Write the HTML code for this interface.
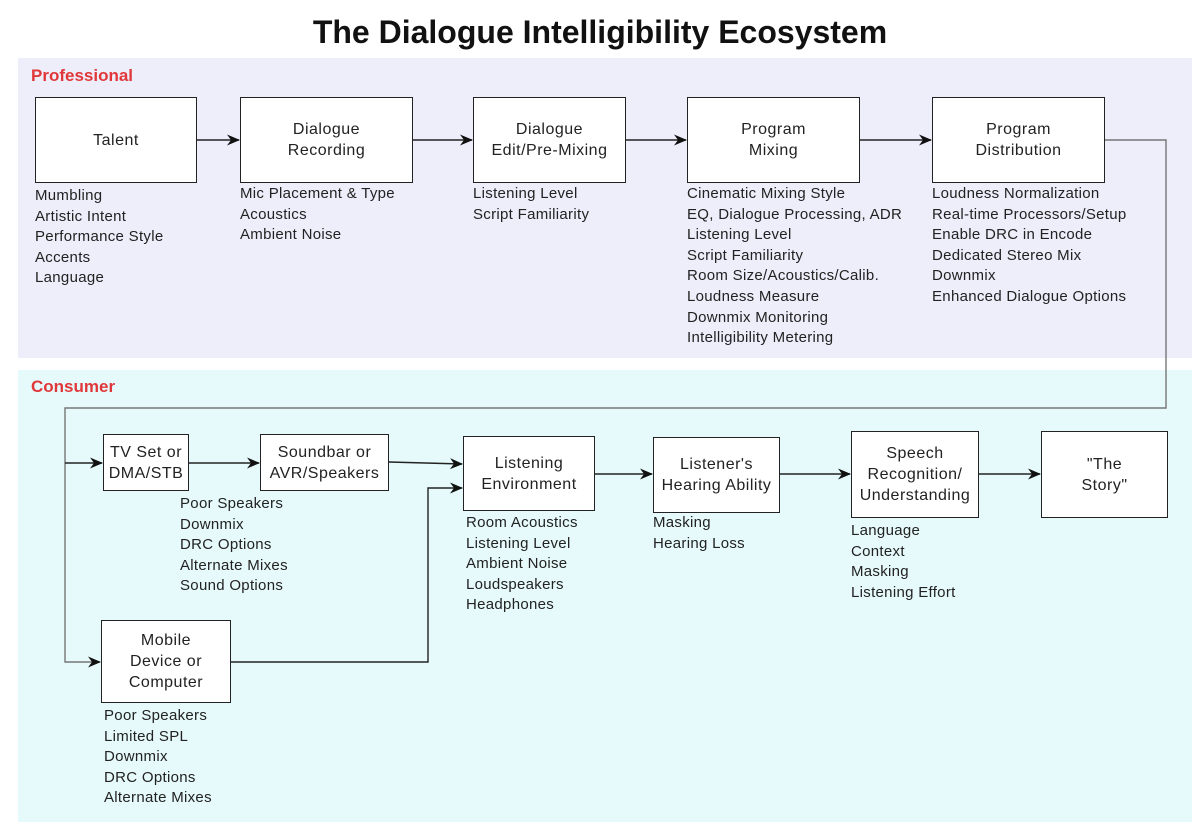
<!DOCTYPE html>
<html><head><style>
body{margin:0;width:1200px;height:827px;background:#fff;position:relative;font-family:"Liberation Sans",sans-serif;overflow:hidden}
.t{position:absolute;left:0;width:1200px;top:14px;text-align:center;font-weight:bold;font-size:32px;color:#111}
.reg{position:absolute}
.lbl{position:absolute;font-weight:bold;font-size:17px;color:#e0383a}
.b{position:absolute;border:1.5px solid #222;background:#fff;box-sizing:border-box;display:flex;align-items:center;justify-content:center;text-align:center;font-size:16px;letter-spacing:0.5px;color:#222;line-height:21px}
.l{position:absolute;font-size:15px;letter-spacing:0.3px;line-height:20.6px;color:#222}
svg{position:absolute;left:0;top:0}
</style></head><body>
<div class="t">The Dialogue Intelligibility Ecosystem</div>
<div class="reg" style="left:18px;top:58px;width:1174px;height:300px;background:#eeedfa"></div>
<div class="reg" style="left:18px;top:370px;width:1174px;height:452px;background:#e6fafb"></div>
<div class="lbl" style="left:31px;top:66px">Professional</div>
<div class="lbl" style="left:31px;top:377px">Consumer</div>
<svg width="1200" height="827">
<defs><marker id="a" markerWidth="13" markerHeight="11" refX="12" refY="5.5" orient="auto" markerUnits="userSpaceOnUse"><path d="M0,0 L13,5.5 L0,11 L4,5.5Z" fill="#111"/></marker></defs>
<g stroke="#222" stroke-width="1.4" fill="none">
<line x1="197" y1="140" x2="239" y2="140" marker-end="url(#a)"/>
<line x1="413" y1="140" x2="472" y2="140" marker-end="url(#a)"/>
<line x1="626" y1="140" x2="686" y2="140" marker-end="url(#a)"/>
<line x1="860" y1="140" x2="931" y2="140" marker-end="url(#a)"/>
<polyline stroke="#777" points="1105,140 1166,140 1166,408 65,408 65,662 100,662" marker-end="url(#a)"/>
<line x1="65" y1="463" x2="102" y2="463" marker-end="url(#a)"/>
<line x1="189" y1="463" x2="259" y2="463" marker-end="url(#a)"/>
<line x1="389" y1="462" x2="462" y2="464" marker-end="url(#a)"/>
<polyline points="231,662 428,662 428,488 462,488" marker-end="url(#a)"/>
<line x1="595" y1="474" x2="652" y2="474" marker-end="url(#a)"/>
<line x1="780" y1="474" x2="850" y2="474" marker-end="url(#a)"/>
<line x1="979" y1="474" x2="1040" y2="474" marker-end="url(#a)"/>
</g></svg>
<div class="b" style="left:35px;top:97px;width:162px;height:86px">Talent</div>
<div class="b" style="left:240px;top:97px;width:173px;height:86px">Dialogue<br>Recording</div>
<div class="b" style="left:473px;top:97px;width:153px;height:86px">Dialogue<br>Edit/Pre-Mixing</div>
<div class="b" style="left:687px;top:97px;width:173px;height:86px">Program<br>Mixing</div>
<div class="b" style="left:932px;top:97px;width:173px;height:86px">Program<br>Distribution</div>
<div class="b" style="left:103px;top:434px;width:86px;height:57px">TV Set or<br>DMA/STB</div>
<div class="b" style="left:260px;top:434px;width:129px;height:57px">Soundbar or<br>AVR/Speakers</div>
<div class="b" style="left:463px;top:436px;width:132px;height:75px">Listening<br>Environment</div>
<div class="b" style="left:653px;top:437px;width:127px;height:76px">Listener's<br>Hearing Ability</div>
<div class="b" style="left:851px;top:431px;width:128px;height:87px">Speech<br>Recognition/<br>Understanding</div>
<div class="b" style="left:1041px;top:431px;width:127px;height:87px">"The<br>Story"</div>
<div class="b" style="left:101px;top:620px;width:130px;height:83px">Mobile<br>Device or<br>Computer</div>
<div class="l" style="left:35px;top:186px">Mumbling<br>Artistic Intent<br>Performance Style<br>Accents<br>Language</div>
<div class="l" style="left:240px;top:184px">Mic Placement &amp; Type<br>Acoustics<br>Ambient Noise</div>
<div class="l" style="left:473px;top:184px">Listening Level<br>Script Familiarity</div>
<div class="l" style="left:687px;top:184px">Cinematic Mixing Style<br>EQ, Dialogue Processing, ADR<br>Listening Level<br>Script Familiarity<br>Room Size/Acoustics/Calib.<br>Loudness Measure<br>Downmix Monitoring<br>Intelligibility Metering</div>
<div class="l" style="left:932px;top:184px">Loudness Normalization<br>Real-time Processors/Setup<br>Enable DRC in Encode<br>Dedicated Stereo Mix<br>Downmix<br>Enhanced Dialogue Options</div>
<div class="l" style="left:180px;top:494px">Poor Speakers<br>Downmix<br>DRC Options<br>Alternate Mixes<br>Sound Options</div>
<div class="l" style="left:466px;top:513px">Room Acoustics<br>Listening Level<br>Ambient Noise<br>Loudspeakers<br>Headphones</div>
<div class="l" style="left:653px;top:513px">Masking<br>Hearing Loss</div>
<div class="l" style="left:851px;top:521px">Language<br>Context<br>Masking<br>Listening Effort</div>
<div class="l" style="left:104px;top:706px">Poor Speakers<br>Limited SPL<br>Downmix<br>DRC Options<br>Alternate Mixes</div>
</body></html>
